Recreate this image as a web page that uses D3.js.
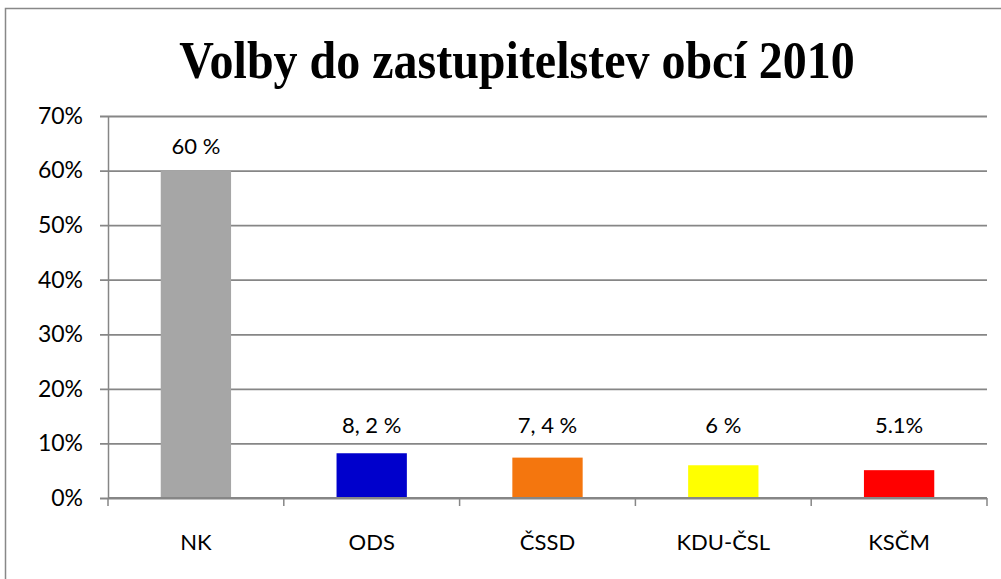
<!DOCTYPE html>
<html>
<head>
<meta charset="utf-8">
<script src="https://cdn.jsdelivr.net/npm/d3@7"></script>
<style>
  body { margin: 0; background: #fff; }
  svg { display: block; }
  .tick text { font-family: Lato, 'Noto Sans', sans-serif; fill: #000; }
</style>
</head>
<body>
<svg id="chart" width="1001" height="579"></svg>
<script>
const parties = ['NK', 'ODS', 'ČSSD', 'KDU-ČSL', 'KSČM'];
const shares = [60, 8.2, 7.4, 6, 5.1];
const shareLabels = ['60 %', '8, 2 %', '7, 4 %', '6 %', '5.1%'];
const barColors = ['#a6a6a6', '#0000cc', '#f4760e', '#ffff00', '#ff0000'];
const yTicks = [0, 10, 20, 30, 40, 50, 60, 70];
const title = 'Volby do zastupitelstev obcí 2010';

const w = 1001;
const h = 579;
const margin = { top: 116, right: 14, bottom: 81, left: 108 };

const svg = d3.select('#chart');

// outer chart frame (runs past the window on the right and bottom)
svg.append('rect')
  .attr('x', 5.5)
  .attr('y', 8.5)
  .attr('width', 1025)
  .attr('height', 600)
  .attr('fill', '#fff')
  .attr('stroke', '#888')
  .attr('stroke-width', 1.5);

svg.append('text')
  .attr('transform', 'translate(517,78) scale(1,1.1)')
  .attr('text-anchor', 'middle')
  .style('font-family', "'Liberation Serif', 'Times New Roman', serif")
  .style('font-weight', 'bold')
  .style('font-size', '48px')
  .text(title);

const x = d3.scaleBand()
  .domain(parties)
  .range([margin.left, w - margin.right])
  .paddingInner(0.6)
  .paddingOuter(0.3);

const y = d3.scaleLinear()
  .domain([0, 70])
  .range([h - margin.bottom, margin.top]);

// gridlines + y axis
const yAxis = svg.append('g')
  .attr('transform', `translate(${margin.left},0)`)
  .call(d3.axisLeft(y)
    .tickValues(yTicks)
    .tickSize(-(w - margin.right - margin.left))
    .tickSizeOuter(0)
    .tickFormat(d => d + '%'));
yAxis.select('.domain').attr('stroke', '#868686').attr('stroke-width', 1.5);
yAxis.selectAll('.tick line')
  .attr('x1', -8)
  .attr('stroke', '#868686')
  .attr('stroke-width', 1.8);
yAxis.selectAll('.tick text')
  .attr('x', -25)
  .style('font-size', '23px');

svg.selectAll('.bar')
  .data(parties)
  .enter()
  .append('rect')
  .attr('class', 'bar')
  .attr('x', d => x(d))
  .attr('y', (d, i) => y(shares[i]))
  .attr('width', x.bandwidth())
  .attr('height', (d, i) => y(0) - y(shares[i]))
  .attr('fill', (d, i) => barColors[i]);

// x axis with category separators
const step = x.step();
const sep = d3.range(parties.length + 1).map(i => margin.left + i * step);
svg.append('g')
  .selectAll('line')
  .data(sep)
  .enter()
  .append('line')
  .attr('x1', d => d)
  .attr('x2', d => d)
  .attr('y1', y(0))
  .attr('y2', y(0) + 8)
  .attr('stroke', '#868686')
  .attr('stroke-width', 1.5);

svg.append('line')
  .attr('x1', margin.left)
  .attr('x2', w - margin.right)
  .attr('y1', y(0))
  .attr('y2', y(0))
  .attr('stroke', '#868686')
  .attr('stroke-width', 1.8);

svg.append('g')
  .selectAll('text')
  .data(parties)
  .enter()
  .append('text')
  .attr('x', d => x(d) + x.bandwidth() / 2)
  .attr('y', y(0) + 52)
  .attr('text-anchor', 'middle')
  .style('font-family', "Lato, 'Noto Sans', sans-serif")
  .style('font-size', '22px')
  .text(d => d);

// value labels (small bars share one level, as in the original)
svg.append('g')
  .selectAll('text')
  .data(parties)
  .enter()
  .append('text')
  .attr('x', d => x(d) + x.bandwidth() / 2)
  .attr('y', (d, i) => Math.min(y(shares[i]) - 17, y(12)))
  .attr('text-anchor', 'middle')
  .style('font-family', "Lato, 'Noto Sans', sans-serif")
  .style('font-size', '22px')
  .text((d, i) => shareLabels[i]);
</script>
</body>
</html>
